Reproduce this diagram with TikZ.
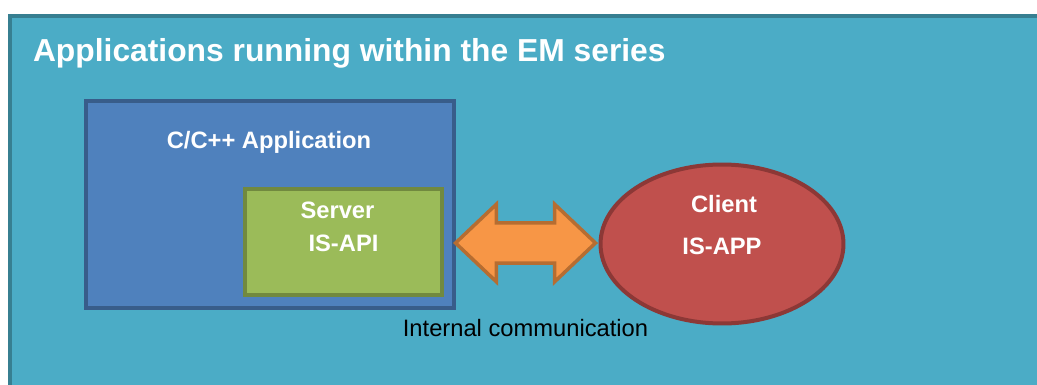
\documentclass[tikz,border=0pt]{standalone}
\usepackage{fontspec}
\setmainfont{Liberation Sans}
\usepackage{tikz}
\usetikzlibrary{positioning, shapes.geometric, shapes.arrows, calc}
\definecolor{Sea}{HTML}{4BACC6}
\definecolor{SeaDark}{HTML}{377F91}
\definecolor{Steel}{HTML}{4F81BD}
\definecolor{SteelDark}{HTML}{385D8A}
\definecolor{Olive}{HTML}{9BBB59}
\definecolor{OliveDark}{HTML}{71893F}
\definecolor{Tangerine}{HTML}{F79646}
\definecolor{TangerineDark}{HTML}{B66D31}
\definecolor{Brick}{HTML}{C0504D}
\definecolor{BrickDark}{HTML}{8C3836}

\begin{document}
\begin{tikzpicture}[
    x=0.02cm, y=-0.02cm,
    every node/.style={inner sep=0pt, outer sep=0pt},
    boxtext/.style={font=\fontsize{13.5}{16}\selectfont\bfseries, text=white},
    plaintext/.style={font=\fontsize{13.5}{16}\selectfont, text=black}
]
\clip (0, 0) rectangle (1037, 385);

% === Outer panel ===
\draw[line width=0.08cm, SeaDark, fill=Sea] (10, 16) rectangle (1060, 420);
\node[font=\fontsize{18.1}{22}\selectfont\bfseries, text=white, anchor=base west] (title) at (33, 62) {Applications running within the EM series};

% === C/C++ application box ===
\node[draw=SteelDark, fill=Steel, line width=0.08cm, minimum width=7.36cm, minimum height=4.14cm] (app) at (270, 204.5) {};
\node[boxtext, anchor=base] (applbl) at (269, 148) {C/C++ Application};

% Server inside the application
\node[draw=OliveDark, fill=Olive, line width=0.08cm, minimum width=3.94cm, minimum height=2.12cm] (server) at (343.5, 242) {};
\node[boxtext, anchor=base] (serverlbl) at (337.5, 218) {Server};
\node[boxtext, anchor=base] (apilbl) at (343.5, 251) {IS-API};

% === Client ===
\node[ellipse, draw=BrickDark, fill=Brick, line width=0.08cm, minimum width=4.86cm, minimum height=3.18cm] (client) at (722, 244) {};
\node[boxtext, anchor=base] (clientlbl) at (724, 212) {Client};
\node[boxtext, anchor=base] (applbl2) at (722, 254) {IS-APP};

% === Communication link ===
\node[double arrow, draw=TangerineDark, fill=Tangerine, line width=0.07cm,
      inner xsep=0pt, inner ysep=0.37cm,
      minimum height=2.8cm, minimum width=1.46cm,
      double arrow head extend=0.37cm, double arrow tip angle=87] (link) at (525.5, 243) {};
\node[plaintext, anchor=base] (linklbl) at (525.5, 336) {Internal communication};

\end{tikzpicture}
\end{document}
